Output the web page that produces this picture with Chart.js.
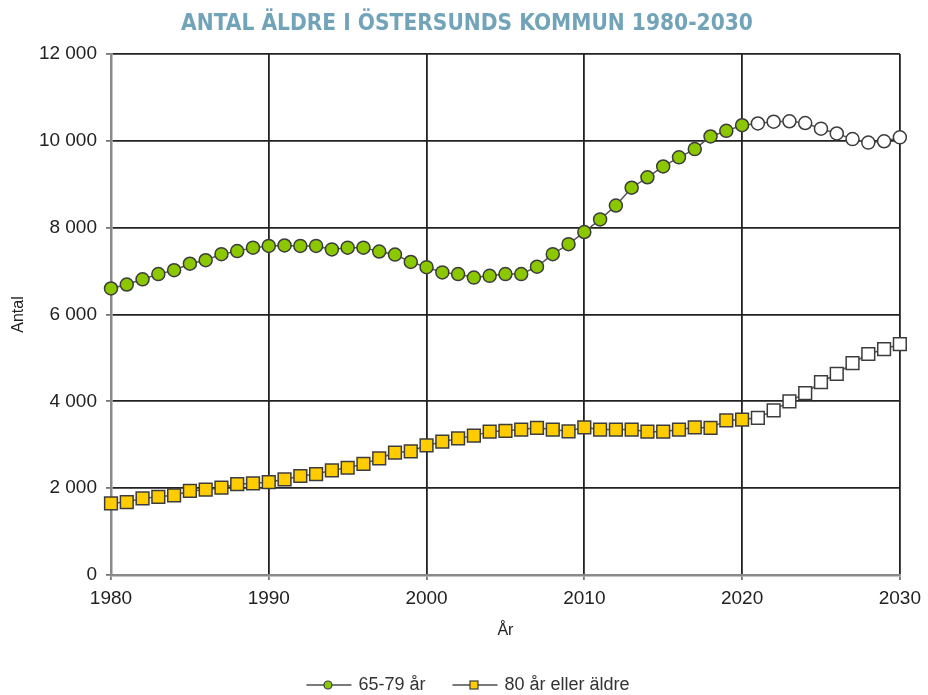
<!DOCTYPE html>
<html><head><meta charset="utf-8">
<script src="https://cdn.jsdelivr.net/npm/chart.js@4/dist/chart.umd.min.js"></script>
<style>html,body{margin:0;padding:0;background:#fff}#wrap{width:928px;height:695px}</style>
</head><body><div id="wrap"><canvas id="c" width="928" height="695"></canvas></div>
<script>
const chartTitle = 'ANTAL ÄLDRE I ÖSTERSUNDS KOMMUN 1980-2030';
const seriesNames = ['65-79 år', '80 år eller äldre'];
const xTitle = 'År';
const yTitle = 'Antal';
const years = [1980,1981,1982,1983,1984,1985,1986,1987,1988,1989,
               1990,1991,1992,1993,1994,1995,1996,1997,1998,1999,
               2000,2001,2002,2003,2004,2005,2006,2007,2008,2009,
               2010,2011,2012,2013,2014,2015,2016,2017,2018,2019,
               2020,2021,2022,2023,2024,2025,2026,2027,2028,2029,2030];
const age65to79 = [6600,6690,6810,6930,7020,7170,7250,7390,7460,7540,
                   7580,7590,7580,7580,7500,7540,7540,7450,7380,7210,
                   7090,6970,6930,6850,6890,6930,6930,7100,7390,7620,
                   7900,8190,8510,8920,9160,9410,9620,9810,10100,10230,
                   10360,10400,10440,10450,10410,10280,10170,10040,9960,9990,10080];
const age80plus = [1650,1680,1765,1800,1835,1935,1965,2010,2095,2110,
                   2140,2200,2280,2325,2410,2470,2560,2685,2820,2850,
                   2985,3070,3145,3210,3300,3320,3350,3390,3350,3310,
                   3400,3350,3350,3350,3300,3300,3350,3400,3390,3560,
                   3580,3620,3790,4000,4190,4440,4635,4880,5090,5200,5320];
const forecastFrom = 2021;
const yTickValues = [0,2000,4000,6000,8000,10000,12000];
const xTickValues = [1980,1990,2000,2010,2020,2030];

const GREEN = '#8cc800', YELLOW = '#ffcc00', MARK_BORDER = '#3c3c3c', LINE = '#555555';
const FONT = "'Liberation Sans', Arial, sans-serif";

function pts(vals){ return years.map((y,i)=>({x:y, y:vals[i]})); }
function fillFor(color){ return ctx => (ctx.raw && ctx.raw.x >= forecastFrom) ? '#ffffff' : color; }
const fmt = v => String(v).replace(/\B(?=(\d{3})+(?!\d))/g, ' ');

const titleLegendPlugin = {
  id: 'titleLegend',
  afterDraw(chart){
    const c = chart.ctx;
    c.save();
    // title
    c.font = "bold 22.5px 'DejaVu Sans Condensed', 'Liberation Sans Narrow', Arial, sans-serif";
    c.fillStyle = '#72a4b9'; c.textAlign = 'center'; c.textBaseline = 'middle';
    c.fillText(chartTitle, 467, 24);
    // legend
    c.font = '18px ' + FONT;
    const lineLen = 45, gap = 7, itemGap = 27;
    const items = chart.data.datasets.map(ds => ({ds, w: lineLen + gap + c.measureText(ds.label).width}));
    const total = items.reduce((s,it)=>s+it.w,0) + itemGap*(items.length-1);
    let x = chart.width/2 - total/2 + 4;
    const y = 685;
    items.forEach(({ds,w}) => {
      c.strokeStyle = '#7a7a7a'; c.lineWidth = 2;
      c.beginPath(); c.moveTo(x, y); c.lineTo(x+lineLen, y); c.stroke();
      c.fillStyle = ds.legendColor; c.strokeStyle = MARK_BORDER; c.lineWidth = 1.2;
      const mx = x + lineLen/2 - 1;
      if (ds.pointStyle === 'rect') { c.fillRect(mx-4, y-4, 8, 8); c.strokeRect(mx-4, y-4, 8, 8); }
      else { c.beginPath(); c.arc(mx, y, 4, 0, Math.PI*2); c.fill(); c.stroke(); }
      c.fillStyle = '#333'; c.textBaseline = 'middle'; c.textAlign = 'left';
      c.fillText(ds.label, x + lineLen + gap, y);
      x += w + itemGap;
    });
    c.restore();
  }
};

new Chart(document.getElementById('c'), {
  type: 'line',
  data: {
    datasets: [
      { label: seriesNames[0], data: pts(age65to79), legendColor: GREEN,
        borderColor: LINE, borderWidth: 1.5, pointStyle: 'circle', pointRadius: 6.5,
        pointBackgroundColor: fillFor(GREEN), pointBorderColor: MARK_BORDER, pointBorderWidth: 1.5, clip: false },
      { label: seriesNames[1], data: pts(age80plus), legendColor: YELLOW,
        borderColor: LINE, borderWidth: 1.5, pointStyle: 'rect', pointRadius: 9,
        pointBackgroundColor: fillFor(YELLOW), pointBorderColor: MARK_BORDER, pointBorderWidth: 1.5, clip: false }
    ]
  },
  options: {
    responsive: false, animation: false,
    layout: { padding: { left: 0, right: 27, top: 54, bottom: 0 } },
    plugins: {
      legend: { display: false },
      tooltip: { enabled: false },
      title: { display: false }
    },
    scales: {
      x: { type: 'linear', min: 1980, max: 2030,
           afterBuildTicks: s => { s.ticks = xTickValues.map(v=>({value:v})); },
           afterFit: s => { s.height = 120; },
           ticks: { callback: v => String(v), color: '#222', font: { family: FONT, size: 19 }, padding: 7, maxRotation: 0 },
           grid: { color: '#222', lineWidth: 1.8, tickLength: 5, tickColor: '#777' },
           border: { color: '#8a8a8a', width: 2.5 },
           title: { display: true, text: xTitle, color: '#222', font: { family: FONT, size: 16 }, padding: { bottom: 55 } } },
      y: { min: 0, max: 12000,
           afterBuildTicks: s => { s.ticks = yTickValues.map(v=>({value:v})); },
           afterFit: s => { s.width = 111; },
           ticks: { callback: v => fmt(v), color: '#222', font: { family: FONT, size: 19 }, padding: 9 },
           grid: { color: '#222', lineWidth: 1.8, tickLength: 5, tickColor: '#777' },
           border: { color: '#8a8a8a', width: 2.5 },
           title: { display: true, text: yTitle, color: '#222', font: { family: FONT, size: 16 }, padding: { top: 9 } } }
    }
  },
  plugins: [titleLegendPlugin]
});
</script>
</body></html>
